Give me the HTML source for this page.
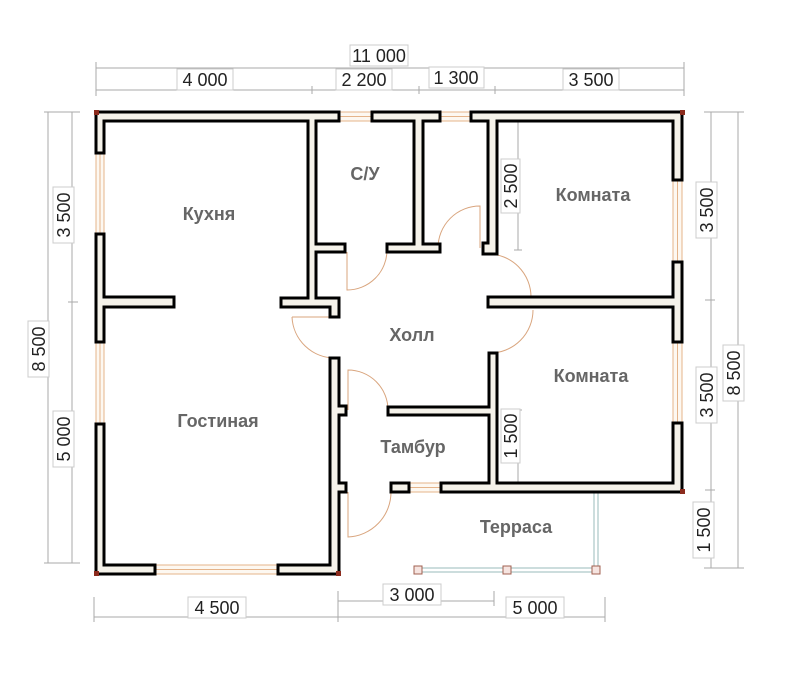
<!DOCTYPE html>
<html><head><meta charset="utf-8"><style>
html,body{margin:0;padding:0;background:#fff;}
svg{display:block;}
.dt{font-family:"Liberation Sans",sans-serif;font-size:18px;fill:#222;}
.rl{font-family:"Liberation Sans",sans-serif;font-size:18px;font-weight:bold;fill:#666;}
</style></head><body>
<svg width="789" height="679" viewBox="0 0 789 679" xmlns="http://www.w3.org/2000/svg">
<g stroke="#aaa" stroke-width="1" fill="none">
<line x1="96" y1="68" x2="684" y2="68"/>
<line x1="96" y1="90" x2="684" y2="90"/>
<line x1="96" y1="62" x2="96" y2="96"/><line x1="684" y1="62" x2="684" y2="96"/>
<line x1="312" y1="86" x2="312" y2="94"/><line x1="419" y1="86" x2="419" y2="94"/><line x1="495" y1="86" x2="495" y2="94"/>
<line x1="48" y1="112" x2="48" y2="563"/><line x1="72" y1="112" x2="72" y2="563"/>
<line x1="44" y1="112" x2="80" y2="112"/><line x1="44" y1="563" x2="80" y2="563"/><line x1="68" y1="302" x2="78" y2="302"/>
<line x1="711" y1="112" x2="711" y2="568"/><line x1="738" y1="112" x2="738" y2="568"/>
<line x1="704" y1="112" x2="744" y2="112"/><line x1="704" y1="568" x2="744" y2="568"/><line x1="705" y1="300" x2="715" y2="300"/><line x1="705" y1="490" x2="715" y2="490"/>
<line x1="94" y1="617" x2="605" y2="617"/><line x1="338" y1="601" x2="494" y2="601"/>
<line x1="94" y1="597" x2="94" y2="622"/><line x1="338" y1="591" x2="338" y2="622"/><line x1="494" y1="591" x2="494" y2="606"/><line x1="605" y1="597" x2="605" y2="622"/>
<line x1="518" y1="121" x2="518" y2="250"/><line x1="514" y1="250" x2="522" y2="250"/>
<line x1="518" y1="410" x2="518" y2="483"/><line x1="514" y1="410" x2="522" y2="410"/>
</g>
<g fill="#fff" stroke="#ccc" stroke-width="1">
<rect x="350" y="45" width="58" height="21"/>
<rect x="177" y="69" width="56" height="21"/><rect x="336" y="69" width="56" height="21"/><rect x="429" y="67" width="55" height="21"/><rect x="563" y="69" width="56" height="21"/>
<rect x="53" y="187" width="21" height="56"/><rect x="28" y="321" width="21" height="56"/><rect x="53" y="411" width="21" height="56"/>
<rect x="696" y="182" width="21" height="56"/><rect x="723" y="345" width="21" height="56"/><rect x="696" y="367" width="21" height="56"/><rect x="693" y="502" width="21" height="56"/>
<rect x="188" y="597" width="58" height="21"/><rect x="383" y="584" width="58" height="21"/><rect x="506" y="597" width="58" height="21"/>
<rect x="501" y="159" width="19" height="54"/><rect x="501" y="409" width="19" height="54"/>
</g>
<g class="dt" text-anchor="middle">
<text x="379" y="62">11 000</text>
<text x="205" y="86">4 000</text><text x="364" y="86">2 200</text><text x="456" y="84">1 300</text><text x="591" y="86">3 500</text>
<text x="217" y="614">4 500</text><text x="412" y="601">3 000</text><text x="535" y="614">5 000</text>
<text transform="translate(70,215) rotate(-90)">3 500</text>
<text transform="translate(45,349) rotate(-90)">8 500</text>
<text transform="translate(70,439) rotate(-90)">5 000</text>
<text transform="translate(713,210) rotate(-90)">3 500</text>
<text transform="translate(740,373) rotate(-90)">8 500</text>
<text transform="translate(713,395) rotate(-90)">3 500</text>
<text transform="translate(710,530) rotate(-90)">1 500</text>
<text transform="translate(517,186) rotate(-90)">2 500</text>
<text transform="translate(517,436) rotate(-90)">1 500</text>
</g>
<g fill="#fdf8f1" stroke="#e5b48a" stroke-width="1">
<rect x="339" y="112" width="33" height="9"/><rect x="440" y="112" width="31" height="9"/>
<rect x="96" y="153" width="8" height="81"/><rect x="96" y="342" width="8" height="82"/>
<rect x="673" y="180" width="9" height="82"/><rect x="673" y="342" width="9" height="81"/>
<rect x="155" y="565" width="123" height="9"/><rect x="409" y="483" width="32" height="9"/>
</g>
<g stroke="#e5b48a" stroke-width="1" fill="none">
<line x1="339" y1="116.5" x2="372" y2="116.5"/><line x1="440" y1="116.5" x2="471" y2="116.5"/>
<line x1="100" y1="153" x2="100" y2="234"/><line x1="100" y1="342" x2="100" y2="424"/>
<line x1="677.5" y1="180" x2="677.5" y2="262"/><line x1="677.5" y1="342" x2="677.5" y2="423"/>
<line x1="155" y1="569.5" x2="278" y2="569.5"/><line x1="409" y1="487.5" x2="441" y2="487.5"/>
</g>
<g stroke="#9bb" stroke-width="1" fill="none">
<line x1="418" y1="568" x2="596" y2="568"/><line x1="418" y1="572" x2="596" y2="572"/>
<line x1="594" y1="492" x2="594" y2="570"/><line x1="598" y1="492" x2="598" y2="570"/>
</g>
<g fill="#f6e4e0" stroke="#a06050" stroke-width="1">
<rect x="414" y="566" width="8" height="8"/><rect x="503" y="566" width="8" height="8"/><rect x="592" y="566" width="8" height="8"/>
</g>
<g stroke="#d9a57e" stroke-width="1" fill="none">
<path d="M347 252 L347 290 A40 40 0 0 0 387 250"/>
<path d="M480 248 L480 206 A42 42 0 0 0 438 248"/>
<path d="M488 254 A43 43 0 0 1 531 297"/>
<path d="M533 310 A43 43 0 0 1 490 353"/>
<path d="M292 317 L335 317 M292 317 A43 43 0 0 0 335 358"/>
<path d="M348 410 L348 370 A40 40 0 0 1 388 410"/>
<path d="M348 492 L348 537 A45 45 0 0 0 391 492"/>
</g>
<g stroke="#000" stroke-width="3" fill="#f5f2ea">
<rect x="96" y="112" width="243" height="9"/>
<rect x="372" y="112" width="68" height="9"/>
<rect x="471" y="112" width="211" height="9"/>
<rect x="96" y="112" width="8" height="41"/>
<rect x="96" y="234" width="8" height="108"/>
<rect x="96" y="424" width="8" height="150"/>
<rect x="96" y="565" width="59" height="9"/>
<rect x="278" y="565" width="61" height="9"/>
<rect x="330" y="358" width="9" height="216"/>
<rect x="330" y="406" width="16" height="9"/>
<rect x="330" y="483" width="16" height="9"/>
<rect x="104" y="297" width="70" height="10"/>
<rect x="281" y="298" width="58" height="9"/>
<rect x="330" y="298" width="9" height="19"/>
<rect x="308" y="121" width="8" height="177"/>
<rect x="316" y="244" width="29" height="8"/>
<rect x="387" y="244" width="53" height="8"/>
<rect x="414" y="121" width="9" height="123"/>
<rect x="488" y="121" width="9" height="133"/>
<rect x="483" y="243" width="14" height="11"/>
<rect x="488" y="297" width="194" height="10"/>
<rect x="673" y="112" width="9" height="68"/>
<rect x="673" y="262" width="9" height="80"/>
<rect x="673" y="423" width="9" height="69"/>
<rect x="489" y="353" width="8" height="139"/>
<rect x="441" y="483" width="241" height="9"/>
<rect x="388" y="407" width="101" height="8"/>
<rect x="391" y="483" width="18" height="9"/>
</g>
<g fill="#f5f2ea" stroke="none">
<rect x="97.5" y="113.5" width="240" height="6"/>
<rect x="373.5" y="113.5" width="65" height="6"/>
<rect x="472.5" y="113.5" width="208" height="6"/>
<rect x="97.5" y="113.5" width="5" height="38"/>
<rect x="97.5" y="235.5" width="5" height="105"/>
<rect x="97.5" y="425.5" width="5" height="147"/>
<rect x="97.5" y="566.5" width="56" height="6"/>
<rect x="279.5" y="566.5" width="58" height="6"/>
<rect x="331.5" y="359.5" width="6" height="213"/>
<rect x="331.5" y="407.5" width="13" height="6"/>
<rect x="331.5" y="484.5" width="13" height="6"/>
<rect x="97.5" y="298.5" width="75" height="7"/>
<rect x="282.5" y="299.5" width="55" height="6"/>
<rect x="331.5" y="299.5" width="6" height="16"/>
<rect x="309.5" y="113.5" width="5" height="190"/>
<rect x="309.5" y="245.5" width="34" height="5"/>
<rect x="388.5" y="245.5" width="50" height="5"/>
<rect x="415.5" y="113.5" width="6" height="136"/>
<rect x="489.5" y="113.5" width="6" height="139"/>
<rect x="484.5" y="244.5" width="11" height="8"/>
<rect x="489.5" y="298.5" width="190" height="7"/>
<rect x="674.5" y="113.5" width="6" height="65"/>
<rect x="674.5" y="263.5" width="6" height="77"/>
<rect x="674.5" y="424.5" width="6" height="66"/>
<rect x="490.5" y="354.5" width="5" height="135"/>
<rect x="442.5" y="484.5" width="238" height="6"/>
<rect x="389.5" y="408.5" width="104" height="5"/>
</g>
<g fill="#8b2b1d">
<rect x="94" y="110" width="5" height="5"/><rect x="680" y="110" width="5" height="5"/>
<rect x="94" y="571" width="5" height="5"/><rect x="336" y="571" width="5" height="5"/><rect x="680" y="489" width="5" height="5"/>
</g>
<g class="rl" text-anchor="middle">
<text x="209" y="220">Кухня</text>
<text x="365" y="180">С/У</text>
<text x="593" y="201">Комната</text>
<text x="412" y="341">Холл</text>
<text x="591" y="382">Комната</text>
<text x="218" y="427">Гостиная</text>
<text x="413" y="453">Тамбур</text>
<text x="516" y="533">Терраса</text>
</g>
</svg>
</body></html>
